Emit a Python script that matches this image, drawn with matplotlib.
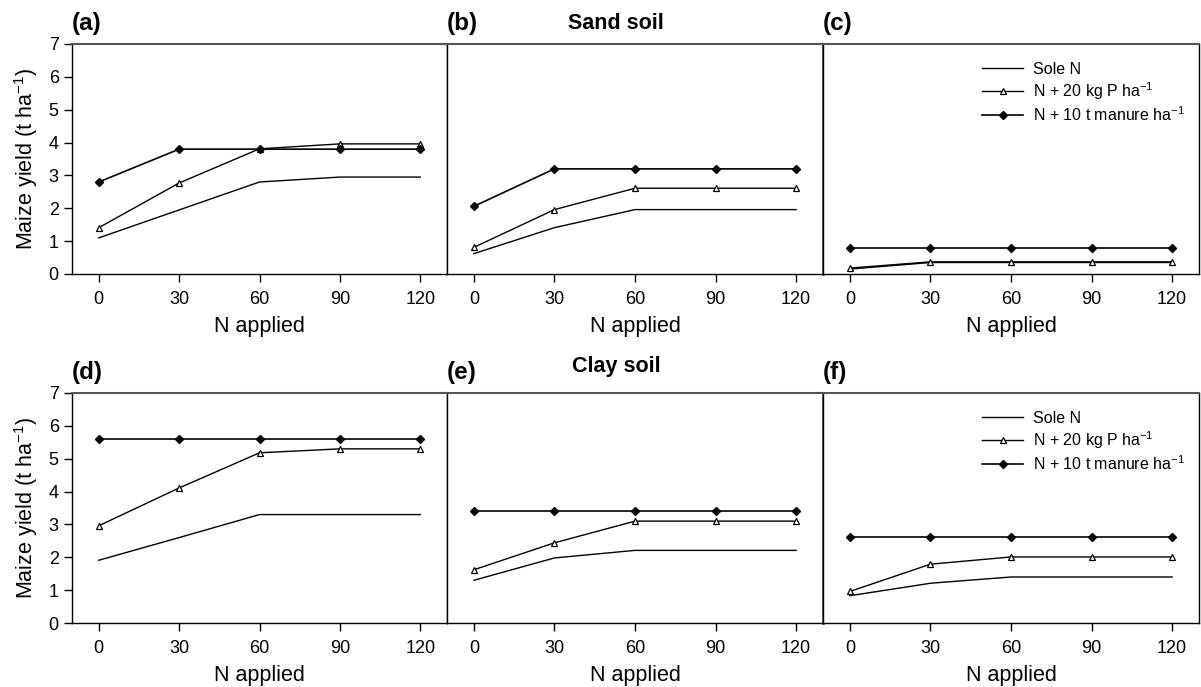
import matplotlib
matplotlib.use("Agg")
import matplotlib.pyplot as plt

plt.rcParams['font.family'] = ['Liberation Sans', 'DejaVu Sans']
plt.rcParams['mathtext.fontset'] = 'custom'
plt.rcParams['mathtext.rm'] = 'Liberation Sans'

n_applied = [0, 30, 60, 90, 120]
x_ticks = [0, 30, 60, 90, 120]
y_ticks = [0, 1, 2, 3, 4, 5, 6, 7]
panel_labels = ['(a)', '(b)', '(c)', '(d)', '(e)', '(f)']
row_titles = ['Sand soil', 'Clay soil']
series_names = ['Sole N', 'N + 20 kg P ha$^{-1}$', 'N + 10 t manure ha$^{-1}$']

# Sand soil (a, b, c)
a_sole = [1.1, 1.95, 2.8, 2.95, 2.95]
a_p = [1.41, 2.77, 3.81, 3.96, 3.96]
a_manure = [2.8, 3.8, 3.8, 3.8, 3.8]

b_sole = [0.62, 1.41, 1.96, 1.96, 1.96]
b_p = [0.81, 1.96, 2.61, 2.61, 2.61]
b_manure = [2.06, 3.2, 3.2, 3.2, 3.2]

c_sole = [0.15, 0.35, 0.35, 0.35, 0.35]
c_p = [0.18, 0.37, 0.37, 0.37, 0.37]
c_manure = [0.8, 0.8, 0.8, 0.8, 0.8]

# Clay soil (d, e, f)
d_sole = [1.91, 2.6, 3.3, 3.3, 3.3]
d_p = [2.96, 4.11, 5.18, 5.3, 5.3]
d_manure = [5.61, 5.61, 5.61, 5.61, 5.61]

e_sole = [1.3, 1.98, 2.21, 2.21, 2.21]
e_p = [1.62, 2.44, 3.1, 3.1, 3.1]
e_manure = [3.4, 3.4, 3.4, 3.4, 3.4]

f_sole = [0.83, 1.21, 1.4, 1.4, 1.4]
f_p = [0.96, 1.79, 2.01, 2.01, 2.01]
f_manure = [2.63, 2.63, 2.63, 2.63, 2.63]

panels = [
    (a_sole, a_p, a_manure), (b_sole, b_p, b_manure), (c_sole, c_p, c_manure),
    (d_sole, d_p, d_manure), (e_sole, e_p, e_manure), (f_sole, f_p, f_manure),
]

W, H = 1201, 687
fig = plt.figure(figsize=(W / 100, H / 100), dpi=100)

lefts = [72, 447, 823]
widths = [375, 376, 376]
tops = [44, 393]
height = 230

axes = []
for r in range(2):
    for c in range(3):
        l = lefts[c] / W
        b = 1 - (tops[r] + height) / H
        ax = fig.add_axes([l, b, widths[c] / W, height / H])
        axes.append(ax)

for i, ax in enumerate(axes):
    sole, p, manure = panels[i]
    ax.plot(n_applied, sole, color='black', lw=1.0, label=series_names[0])
    ax.plot(n_applied, p, color='black', lw=1.0, marker='^', ms=4.5,
            mfc='white', mec='black', mew=0.9, label=series_names[1])
    ax.plot(n_applied, manure, color='black', lw=1.2, marker='D', ms=4,
            mfc='black', mec='black', label=series_names[2])
    ax.set_xlim(-10, 130)
    ax.set_ylim(0, 7)
    ax.set_xticks(x_ticks)
    ax.set_yticks(y_ticks)
    ax.tick_params(axis='x', direction='out', length=6, width=1, labelsize=13, pad=6)
    ax.tick_params(axis='y', direction='out', length=6, width=1, labelsize=13)
    ax.set_xlabel('N applied', fontsize=15.5, labelpad=6)
    col = i % 3
    if col == 0:
        ax.set_ylabel('Maize yield (t ha$^{-1}$)', fontsize=15.5, labelpad=6)
    else:
        ax.tick_params(axis='y', length=0, labelleft=False)
    for s in ['left', 'bottom', 'right']:
        ax.spines[s].set_linewidth(1.0)
        ax.spines[s].set_color('black')
    ax.spines['top'].set_linewidth(1.5)
    ax.spines['top'].set_color('#555555')
    if col == 1:
        ax.spines['right'].set_linewidth(1.8)
        ax.spines['right'].set_color('#333333')
    ax.text(0.0, 1.04, panel_labels[i], transform=ax.transAxes,
            fontsize=17.5, fontweight='bold', ha='left', va='bottom')
    if col == 1:
        r = i // 3
        ax.text(0.45, 1.045 if r == 0 else 1.07, row_titles[r], transform=ax.transAxes,
                fontsize=15.5, fontweight='bold', ha='center', va='bottom')
    if col == 2:
        ax.legend(loc='upper right', frameon=False, fontsize=11.5,
                  handlelength=2.55, handletextpad=0.6, labelspacing=0.2,
                  bbox_to_anchor=(1.0, 0.985))

fig.savefig('out.png', dpi=100)
